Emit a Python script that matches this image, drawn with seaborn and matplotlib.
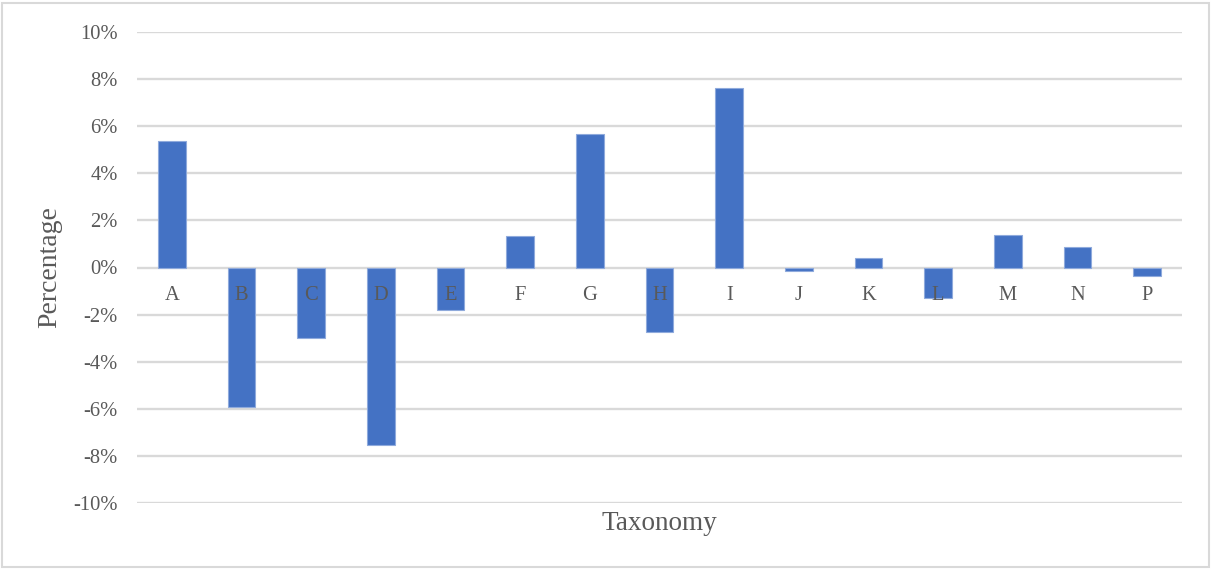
import matplotlib
matplotlib.use("Agg")
import matplotlib.pyplot as plt
from matplotlib.patches import Rectangle
from matplotlib.ticker import FuncFormatter
import seaborn as sns
import pandas as pd

# Change in share per taxonomy group (percent)
categories = ["A", "B", "C", "D", "E", "F", "G", "H", "I", "J", "K", "L", "M", "N", "P"]
values = [5.39, -5.93, -2.98, -7.55, -1.80, 1.33, 5.69, -2.75, 7.64, -0.15, 0.41, -1.30, 1.36, 0.85, -0.38]
y_ticks = [-10, -8, -6, -4, -2, 0, 2, 4, 6, 8, 10]

df = pd.DataFrame({"Taxonomy": categories, "Percentage": values})

sns.set_theme(style="white")
plt.rcParams["font.family"] = ["Liberation Serif", "DejaVu Serif"]

TEXT = "#595959"
GRID = "#D9D9D9"
BAR = "#4472C4"

fig = plt.figure(figsize=(12.12, 5.70), dpi=100)
ax = fig.add_axes([137 / 1212, 1 - 503 / 570, 1045 / 1212, 471 / 570])

sns.barplot(data=df, x="Taxonomy", y="Percentage", order=categories,
            color=BAR, saturation=1, width=0.4, edgecolor="#8FAADC",
            linewidth=0.8, ax=ax, zorder=2)

ax.set_ylim(-10, 10)
ax.set_xlim(-0.5, len(categories) - 0.5)
ax.set_yticks(y_ticks)
ax.yaxis.set_major_formatter(FuncFormatter(lambda v, _: f"{v:.0f}%"))
ax.tick_params(axis="y", length=0, pad=14, labelsize=14.8, labelcolor=TEXT)
ax.set_xticks([])

ax.yaxis.grid(True, color=GRID, linewidth=1.7, zorder=0)
ax.set_axisbelow(True)
for s in ax.spines.values():
    s.set_visible(False)

# Category names sit just under the zero line, drawn over the bars
for i, name in enumerate(categories):
    ax.annotate(name, xy=(i, 0), xytext=(0, -20), textcoords="offset points",
                ha="center", va="center", fontsize=14.8, color=TEXT, zorder=5)

ax.set_xlabel("Taxonomy", fontsize=19.5, color=TEXT)
ax.xaxis.set_label_coords(0.5, -(524 - 503) / 471)
ax.xaxis.label.set_va("center")
ax.set_ylabel("Percentage", fontsize=20, color=TEXT)
ax.yaxis.set_label_coords((50 - 137) / 1045, 0.5)
ax.yaxis.label.set_va("center")

# Thin frame around the whole chart
fig.patches.append(Rectangle((2 / 1212, 3 / 570), 1207 / 1212, 564 / 570,
                             transform=fig.transFigure, fill=False,
                             edgecolor=GRID, linewidth=1.5))

fig.savefig("out.png", dpi=100, facecolor="white")
